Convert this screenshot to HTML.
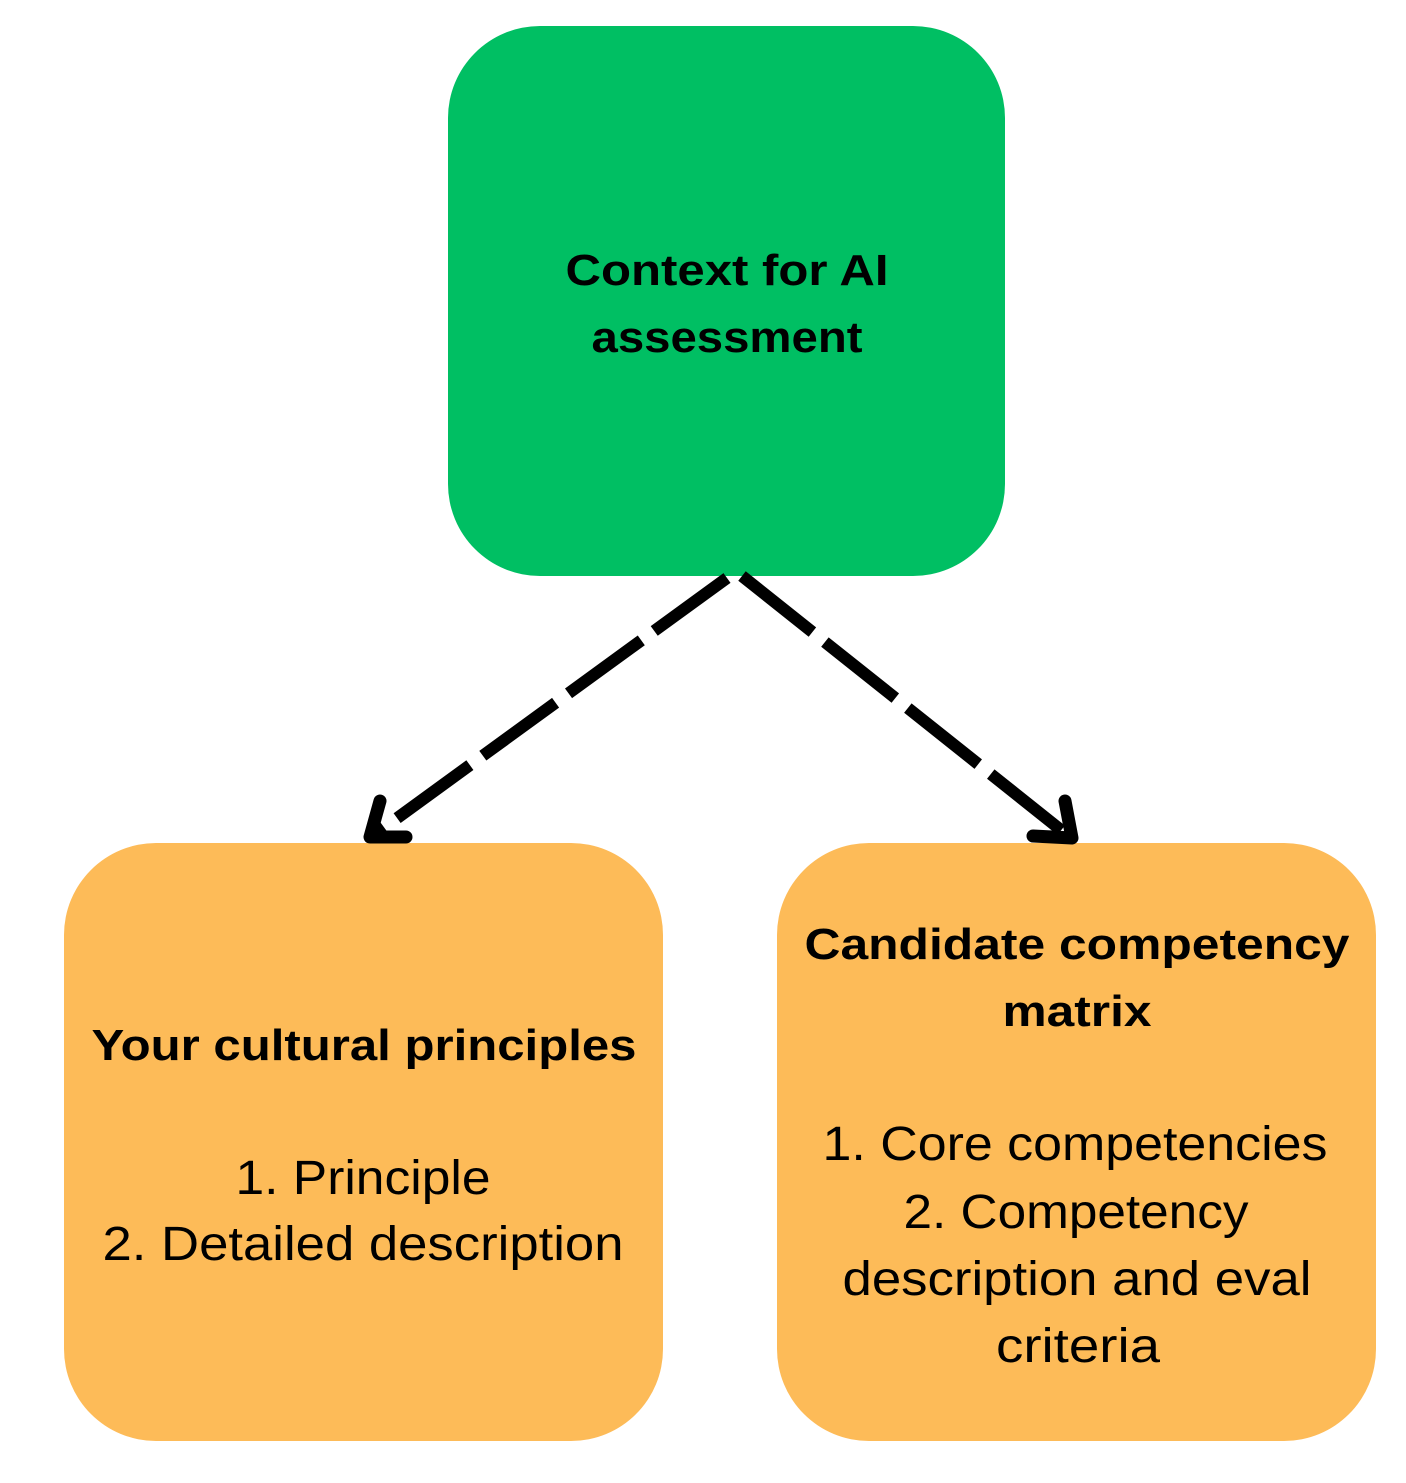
<!DOCTYPE html>
<html><head><meta charset="utf-8"><style>html,body{margin:0;padding:0;background:#fff}</style></head>
<body>
<svg width="1406" height="1478" viewBox="0 0 1406 1478" xmlns="http://www.w3.org/2000/svg" font-family="Liberation Sans, sans-serif">
<rect x="448" y="26" width="557" height="550" rx="92" fill="#00BF63"/>
<rect x="64" y="843" width="599" height="598" rx="92" fill="#FDBB58"/>
<rect x="777" y="843" width="599" height="598" rx="92" fill="#FDBB58"/>
<g stroke="#000" stroke-width="12" fill="none">
<line x1="727" y1="578" x2="378" y2="832" stroke-dasharray="90 16"/>
<line x1="742" y1="576" x2="1066" y2="834" stroke-dasharray="90 16"/>
</g>
<g stroke="#000" stroke-width="13" fill="none" stroke-linecap="round" stroke-linejoin="round">
<polyline points="380,801 370,837 406,837"/>
<polyline points="1065,801 1072,838 1033,836"/>
</g>
<g font-weight="bold" font-size="44" text-anchor="middle" fill="#000">
<text x="727" y="285" textLength="323" lengthAdjust="spacingAndGlyphs">Context for AI</text>
<text x="727" y="352" textLength="271" lengthAdjust="spacingAndGlyphs">assessment</text>
<text x="364" y="1060" textLength="545" lengthAdjust="spacingAndGlyphs">Your cultural principles</text>
<text x="1077" y="959" textLength="545" lengthAdjust="spacingAndGlyphs">Candidate competency</text>
<text x="1077" y="1026" textLength="149" lengthAdjust="spacingAndGlyphs">matrix</text>
</g>
<g font-size="48" text-anchor="middle" fill="#000">
<text x="363" y="1194" textLength="255" lengthAdjust="spacingAndGlyphs">1. Principle</text>
<text x="363" y="1260" textLength="521" lengthAdjust="spacingAndGlyphs">2. Detailed description</text>
<text x="1075" y="1160" textLength="505" lengthAdjust="spacingAndGlyphs">1. Core competencies</text>
<text x="1076" y="1228" textLength="345" lengthAdjust="spacingAndGlyphs">2. Competency</text>
<text x="1077" y="1295" textLength="469" lengthAdjust="spacingAndGlyphs">description and eval</text>
<text x="1078" y="1362" textLength="164" lengthAdjust="spacingAndGlyphs">criteria</text>
</g>
</svg>
</body></html>
